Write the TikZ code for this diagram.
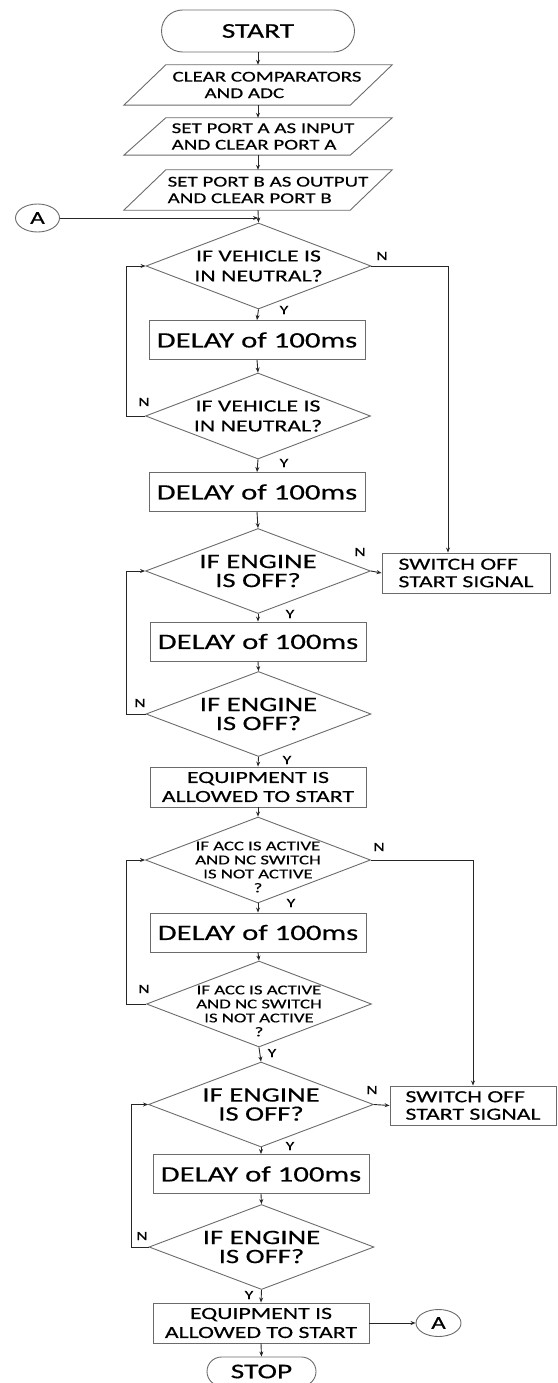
\documentclass[tikz,border=0pt]{standalone}
\usepackage{fontspec}
\setmainfont[FakeStretch=1.4,FakeBold=0.4]{Carlito}
\usetikzlibrary{shapes.geometric,arrows.meta}
\definecolor{shapec}{gray}{0.42}
\definecolor{linec}{gray}{0.15}
\newcommand\fsz[2]{\fontsize{#1}{#2}\selectfont}
\begin{document}
\begin{tikzpicture}[x=1pt,y=-1pt,
  shp/.style={draw=shapec,line width=0.9pt},
  fcterm/.style={shp,rectangle,inner sep=0pt,font=\fsz{21}{24}},
  fcbox/.style={shp,rectangle,inner sep=0pt,minimum width=216pt,minimum height=39pt,align=center},
  delaybox/.style={fcbox,font=\fsz{22}{26}},
  eqbox/.style={fcbox,font=\fsz{17}{19}},
  swbox/.style={shp,rectangle,inner sep=0pt,align=left,font=\fsz{17}{17.5}},
  pbase/.style={rectangle,inner sep=0pt,minimum width=224pt},
  ptxt/.style={inner sep=0pt,align=left,font=\fsz{15}{16.5}},
  fcdia/.style={shp,diamond,inner sep=0pt,minimum width=225pt,minimum height=86pt},
  dtxt/.style={inner sep=0pt,align=center},
  fcconn/.style={shp,ellipse,inner sep=0pt,font=\fsz{18}{20}},
  fclbl/.style={inner sep=0pt,font=\fsz{12.5}{14}},
  arr/.style={draw=linec,line width=0.9pt,-{Stealth[length=5pt,width=4pt]}},
  fcline/.style={draw=linec,line width=0.9pt}]
\useasboundingbox (0,0) rectangle (557,1383);

% ---- top part ----
\node[fcterm,minimum width=193pt,minimum height=42pt,rounded corners=21pt] (start) at (258,31) {START};

\node[pbase,minimum height=40pt] (p1) at (258,85) {};
\node[pbase,minimum height=37pt] (p2) at (258,136.5) {};
\node[pbase,minimum height=40pt] (p3) at (258,190) {};
\foreach \n in {p1,p2,p3}
  \draw[shp] ([xshift=20pt]\n.north west) -- ([xshift=22pt]\n.north east)
     -- ([xshift=-20pt]\n.south east) -- ([xshift=-22pt]\n.south west) -- cycle;
\node[ptxt,xshift=9pt] (p1t) at (p1) {CLEAR COMPARATORS\\\hspace*{32pt}AND ADC};
\node[ptxt,xshift=5pt] (p2t) at (p2) {SET PORT A AS INPUT\\AND CLEAR PORT A};
\node[ptxt,xshift=10pt] (p3t) at (p3) {SET PORT B AS OUTPUT\\AND CLEAR PORT B};

\node[fcconn,minimum width=44pt,minimum height=28pt] (A1) at (37.5,218) {A};
\coordinate (j1) at (258,218);

% ---- block 1 ----
\node[fcdia] (d1) at (258.5,266) {};
\node[dtxt,font=\fsz{17}{20}] (d1t) at (d1) {IF VEHICLE IS\\IN NEUTRAL?};
\node[delaybox] (del1) at (257,340) {DELAY of 100ms};
\node[fcdia] (d2) at (258,416) {};
\node[dtxt,font=\fsz{17}{20}] (d2t) at (d2) {IF VEHICLE IS\\IN NEUTRAL?};
\node[delaybox] (del2) at (257,492) {DELAY of 100ms};

% ---- block 2 ----
\node[fcdia,minimum height=85pt] (d3) at (258,571) {};
\node[dtxt,font=\fsz{20.5}{19}] (d3t) at (d3) {IF ENGINE\\IS OFF?};
\node[swbox,minimum width=168pt,minimum height=40pt] (sw1) at (466,573) {SWITCH OFF\\START SIGNAL};
\node[delaybox] (del3) at (258,641.5) {DELAY of 100ms};
\node[fcdia,minimum height=85pt] (d4) at (258.5,714) {};
\node[dtxt,font=\fsz{20.5}{19}] (d4t) at (d4) {IF ENGINE\\IS OFF?};
\node[eqbox,minimum height=40pt] (eq1) at (258,787) {EQUIPMENT IS\\ALLOWED TO START};

% ---- block 3 ----
\node[fcdia] (d5) at (258,860) {};
\node[dtxt,font=\fsz{13.4}{14},yshift=-7pt] (d5t) at (d5) {IF ACC IS ACTIVE\\AND NC SWITCH\\IS NOT ACTIVE\\?};
\node[delaybox] (del4) at (258,932.5) {DELAY of 100ms};
\node[fcdia] (d6) at (259,1004) {};
\node[dtxt,font=\fsz{13.4}{14},yshift=-7pt] (d6t) at (d6) {IF ACC IS ACTIVE\\AND NC SWITCH\\IS NOT ACTIVE\\?};

% ---- block 4 ----
\node[fcdia,minimum height=85pt] (d7) at (261,1104.5) {};
\node[dtxt,font=\fsz{20.5}{19}] (d7t) at (d7) {IF ENGINE\\IS OFF?};
\node[swbox,minimum width=166pt,minimum height=39pt] (sw2) at (473,1105.5) {SWITCH OFF\\START SIGNAL};
\node[delaybox] (del5) at (261,1174) {DELAY of 100ms};
\node[fcdia,minimum height=85pt] (d8) at (261.5,1247) {};
\node[dtxt,font=\fsz{20.5}{19}] (d8t) at (d8) {IF ENGINE\\IS OFF?};
\node[eqbox,minimum height=40pt] (eq2) at (261,1323) {EQUIPMENT IS\\ALLOWED TO START};
\node[fcconn,minimum width=45pt,minimum height=27pt] (A2) at (438.5,1323) {A};
\node[fcterm,minimum width=109pt,minimum height=29pt,rounded corners=14.5pt] (stop) at (261.5,1371.5) {STOP};

% ---- helper coordinates ----
\coordinate (r1) at (448,0);
\coordinate (r2) at (473,0);
\coordinate (l1) at (126,0);
\coordinate (l2) at (131,0);

% ---- main flow ----
\draw[arr] (start.south) -- (p1.north);
\draw[arr] (p1.south) -- (p2.north);
\draw[arr] (p2.south) -- (p3.north);
\draw[arr] (p3.south) -- (d1.north);
\draw[arr] (A1.east) -- (j1);
\draw[arr] (d1.south) -- (del1.north);
\draw[arr] (del1.south) -- (d2.north);
\draw[arr] (d2.south) -- (del2.north);
\draw[arr] (del2.south) -- (d3.north);
\draw[arr] (d3.south) -- (del3.north);
\draw[arr] (del3.south) -- (d4.north);
\draw[arr] (d4.south) -- (eq1.north);
\draw[arr] (eq1.south) -- (d5.north);
\draw[arr] (d5.south) -- (del4.north);
\draw[arr] (del4.south) -- (d6.north);
\draw[arr] (d6.south) -- (d7.north);
\draw[arr] (d7.south) -- (del5.north);
\draw[arr] (del5.south) -- (d8.north);
\draw[arr] (d8.south) -- (eq2.north);
\draw[arr] (eq2.south) -- (stop.north);
\draw[arr] (eq2.east) -- (A2.west);

% ---- N branches ----
\draw[arr] (d1.east) -- (r1 |- d1.east) -- (r1 |- sw1.north);
\draw[arr] (d3.east) -- (sw1.west);
\draw[arr] (d5.east) -- (r2 |- d5.east) -- (r2 |- sw2.north);
\draw[arr] (d7.east) -- (sw2.west);

% ---- loops ----
\draw[arr] (d2.west) -- (l1 |- d2.west) -- (l1 |- d1.west) -- (d1.west);
\draw[arr] (d4.west) -- (l1 |- d4.west) -- (l1 |- d3.west) -- (d3.west);
\draw[arr] (d6.west) -- (l1 |- d6.west) -- (l1 |- d5.west) -- (d5.west);
\draw[arr] (d8.west) -- (l2 |- d8.west) -- (l2 |- d7.west) -- (d7.west);

% ---- labels ----
\node[fclbl] (y1) at (284,310) {Y};
\node[fclbl] (y2) at (284,463) {Y};
\node[fclbl] (y3) at (290,614) {Y};
\node[fclbl] (y4) at (287,760) {Y};
\node[fclbl] (y5) at (291,903) {Y};
\node[fclbl] (y6) at (272,1053) {Y};
\node[fclbl] (y7) at (290,1146) {Y};
\node[fclbl] (y8) at (249,1295) {Y};
\node[fclbl] (n1) at (382,256) {N};
\node[fclbl] (n2) at (144,402) {N};
\node[fclbl] (n3) at (360,552) {N};
\node[fclbl] (n4) at (140,703) {N};
\node[fclbl] (n5) at (379,847) {N};
\node[fclbl] (n6) at (144,989) {N};
\node[fclbl] (n7) at (372,1090) {N};
\node[fclbl] (n8) at (142,1236) {N};
\end{tikzpicture}
\end{document}
